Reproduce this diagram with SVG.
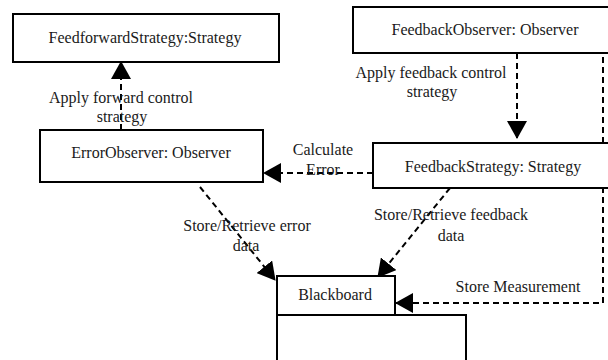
<svg xmlns="http://www.w3.org/2000/svg" width="608" height="360" viewBox="0 0 608 360">
  <style>
    .box { fill: #ffffff; stroke: #000000; stroke-width: 2; }
    .link { fill: none; stroke: #000000; stroke-width: 2; stroke-dasharray: 6 4; marker-end: url(#arrow); }
    text { font-family: "Liberation Serif", "Times New Roman", serif; font-size: 16px; fill: #1a1a1a; text-anchor: middle; }
  </style>
  <defs>
    <marker id="arrow" viewBox="0 0 18 20" refX="17" refY="10" markerWidth="18" markerHeight="20" markerUnits="userSpaceOnUse" orient="auto">
      <path d="M0,0 L18,10 L0,20 Z" fill="#000000"/>
    </marker>
  </defs>

  <rect width="608" height="360" fill="#ffffff"/>

  <!-- connectors -->
  <g id="connectors">
    <g id="apply-forward">
      <line class="link" x1="121" y1="130" x2="121" y2="62"/>
      <text x="121" y="103">Apply forward control</text>
      <text x="122" y="122">strategy</text>
    </g>
    <g id="apply-feedback">
      <line class="link" x1="517" y1="53" x2="517" y2="138"/>
      <text x="431" y="78">Apply feedback control</text>
      <text x="432" y="97">strategy</text>
    </g>
    <g id="calculate-error">
      <line class="link" x1="373" y1="173" x2="264" y2="173"/>
      <text x="323" y="155">Calculate</text>
      <text x="323" y="175">Error</text>
    </g>
    <g id="store-error">
      <line class="link" x1="200" y1="187" x2="275" y2="280"/>
      <text x="247" y="231">Store/Retrieve error</text>
      <text x="246" y="251">data</text>
    </g>
    <g id="store-feedback">
      <line class="link" x1="450" y1="188" x2="378" y2="277"/>
      <text x="451" y="220">Store/Retrieve feedback</text>
      <text x="451" y="241">data</text>
    </g>
    <g id="store-measurement">
      <polyline class="link" points="603,57 603,303 396,303"/>
      <text x="518" y="292">Store Measurement</text>
    </g>
  </g>

  <!-- nodes -->
  <g id="feedforward-strategy">
    <rect class="box" x="13" y="14" width="266" height="48"/>
    <text x="145" y="43">FeedforwardStrategy:Strategy</text>
  </g>
  <g id="error-observer">
    <rect class="box" x="40" y="130" width="223" height="52"/>
    <text x="151" y="158">ErrorObserver: Observer</text>
  </g>
  <g id="feedback-observer">
    <rect class="box" x="353" y="7" width="264" height="46"/>
    <text x="485" y="35">FeedbackObserver: Observer</text>
  </g>
  <g id="feedback-strategy">
    <rect class="box" x="373" y="143" width="242" height="45"/>
    <text x="493" y="172">FeedbackStrategy: Strategy</text>
  </g>
  <g id="blackboard">
    <rect class="box" x="277" y="315" width="189" height="50"/>
    <rect class="box" x="277" y="276" width="118" height="39"/>
    <text x="335" y="300">Blackboard</text>
  </g>
</svg>
